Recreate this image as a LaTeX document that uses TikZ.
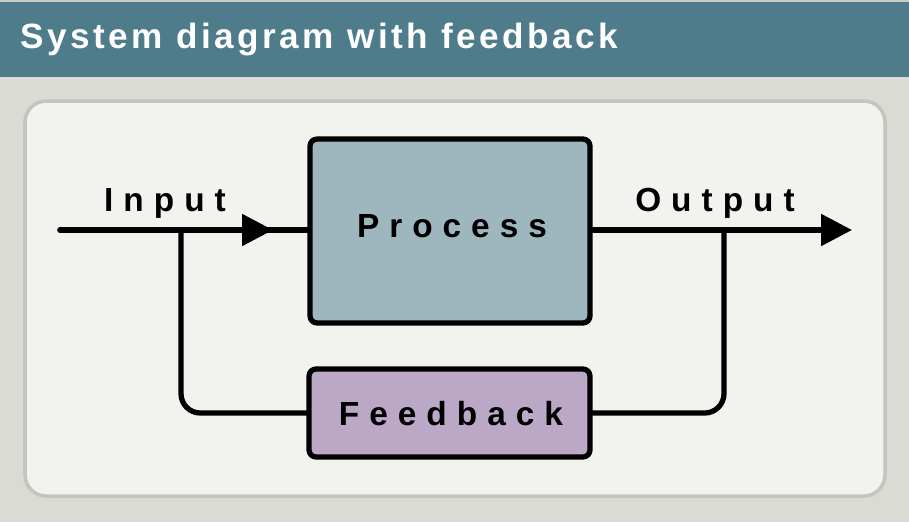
\documentclass[tikz,border=0pt]{standalone}
\usepackage{fontspec}
\setmainfont{Liberation Sans}
\usetikzlibrary{arrows.meta}
\definecolor{hdr}{HTML}{4E7C8B}
\definecolor{bodybg}{HTML}{DBDBD5}
\definecolor{panel}{HTML}{F2F2EE}
\definecolor{panelrim}{HTML}{C5C5BF}
\definecolor{procfill}{HTML}{9EB7BF}
\definecolor{fbfill}{HTML}{BBA8C7}
\newfontfamily\spacedfont[LetterSpace=30]{Liberation Sans Bold}
\newfontfamily\titlefont[LetterSpace=10]{Liberation Sans Bold}
\begin{document}
\begin{tikzpicture}[x=0.02cm,y=-0.02cm,
  blockbox/.style={draw=black,line width=3pt,rounded corners=4pt,inner sep=0pt,
    font=\fontsize{19}{22}\spacedfont},
  wire/.style={line width=3pt,line cap=round},
  tipped/.style={wire,-{Triangle[length=0.62cm,width=0.62cm]}},
  lbl/.style={font=\fontsize{19}{22}\spacedfont,inner sep=0pt,anchor=base}]
\useasboundingbox (0,0) rectangle (909,522);
\fill[bodybg] (0,0) rectangle (909,522);
\fill[hdr] (0,2) rectangle (909,77);
\fill[panelrim!70!bodybg] (0,0) rectangle (909,2);
\draw[panelrim,fill=panel,line width=2pt,rounded corners=12pt] (25,101) rectangle (885,496);
\node[anchor=base west,text=white,inner sep=0pt,font=\fontsize{20}{24}\titlefont] (title) at (20,48) {System diagram with feedback};
% blocks
\node[blockbox,fill=procfill,minimum width=5.6cm,minimum height=3.68cm] (P) at (450,231) {};
\node[blockbox,fill=fbfill,minimum width=5.62cm,minimum height=1.76cm] (F) at (449.5,413) {};
\node[lbl] (ptext) at (452,237) {Process\hspace{-5.5pt}};
\node[lbl] (ftext) at (451,425) {Feedback\hspace{-5.5pt}};
% labels
\node[lbl] (inlbl) at (165,211) {Input\hspace{-5.5pt}};
\node[lbl] (outlbl) at (715,211) {Output\hspace{-5.5pt}};
% connectors
\coordinate (inA) at (60,230);
\coordinate (inTip) at (273,230);
\coordinate (outEnd) at (852,230);
\coordinate (splitL) at (181,230);
\coordinate (splitR) at (724,230);
\draw[wire] (inA) -- (P.west |- inA);
\draw[tipped] (inA) -- (inTip);
\draw[tipped] (P.east |- inA) -- (outEnd);
\draw[wire,rounded corners=11pt] (splitL) -- (splitL |- F.west) -- (F.west);
\draw[wire,rounded corners=11pt] (F.east) -- (splitR |- F.east) -- (splitR);
\end{tikzpicture}
\end{document}
